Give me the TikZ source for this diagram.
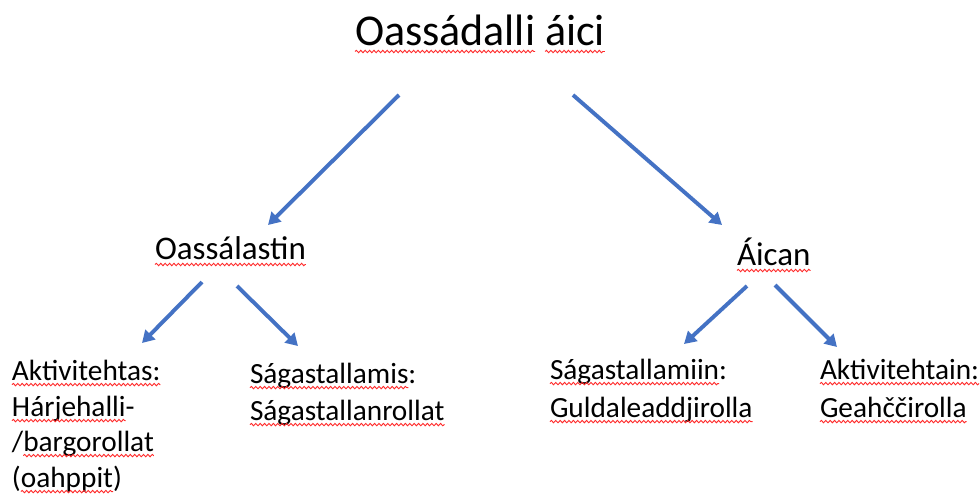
\documentclass[tikz,border=0pt]{standalone}
\usepackage{fontspec}
\setmainfont{Carlito}
\usetikzlibrary{arrows.meta,decorations.pathmorphing}
\definecolor{arrowblue}{HTML}{4472C4}
\definecolor{spellred}{HTML}{FF2A2A}
\tikzset{
  lbl/.style={inner sep=0pt, outer sep=0pt, anchor=base west},
  big/.style={font=\fontsize{44}{50}\selectfont},
  mid/.style={font=\fontsize{33}{38}\selectfont},
  small/.style={font=\fontsize{29.3}{35}\selectfont},
  conn/.style={arrowblue, line width=3.9pt, -{Triangle[length=12pt,width=13.5pt]}},
  wave/.style={draw=spellred, line width=0.9pt, decorate,
    decoration={snake, amplitude=1.2pt, segment length=4.4pt}}
}
\newcommand\wv[2][4.6pt]{\draw[wave] ([yshift=-#1]#2.base west) -- ([yshift=-#1]#2.base east);}
\begin{document}
\begin{tikzpicture}[x=1pt,y=-1pt]
\clip (0,0) rectangle (980,493);
\fill[white] (0,0) rectangle (980,493);
% texts
\node[lbl,big] (title) at (355,45) {Oassádalli};
\node[lbl,big] (title2) at ([xshift=9.9pt]title.base east) {áici};
\node[lbl,mid] (oass) at (155,259) {Oassálastin};
\node[lbl,mid] (aican) at (737,265) {Áican};
\node[lbl,small] (akt1) at (12,380) {Aktivitehtas:};
\node[lbl,small] (akt2) at (12,416) {Hárjehalli};
\node[lbl,small] (akt2d) at (akt2.base east) {-};
\node[lbl,small] (akt3s) at (12,451) {/};
\node[lbl,small] (akt3) at (akt3s.base east) {bargorollat};
\node[lbl,small] (akt4p) at (12,487) {(};
\node[lbl,small] (akt4) at (akt4p.base east) {oahppit};
\node[lbl,small] (akt4q) at (akt4.base east) {)};
\node[lbl,small] (sag1) at (250,383) {Ságastallamis};
\node[lbl,small] (sag1c) at (sag1.base east) {:};
\node[lbl,small] (sag2) at (250,420) {Ságastallanrollat};
\node[lbl,small] (sagr1) at (550,379) {Ságastallamiin};
\node[lbl,small] (sagr1c) at (sagr1.base east) {:};
\node[lbl,small] (sagr2) at (550,417) {Guldaleaddjirolla};
\node[lbl,small] (aktr1) at (820,379) {Aktivitehtain:};
\node[lbl,small] (aktr2) at (820,417) {Geahččirolla};
% spelling underlines
\wv[6.5pt]{title}\wv[6.5pt]{title2}\wv[5.5pt]{oass}\wv[5.5pt]{aican}
\wv{akt1}\wv{akt2}\wv{akt3}\wv{akt4}
\wv{sag1}\wv{sag2}\wv{sagr1}\wv{sagr2}\wv{aktr1}\wv{aktr2}
% connector ends
\coordinate (t-l) at (399,95);
\coordinate (t-r) at (573,95);
\coordinate (oass-in) at (268,225);
\coordinate (aican-in) at (722,225);
\coordinate (oass-l) at (202,282);
\coordinate (akt-in) at (142,343);
\coordinate (oass-r) at (237,286);
\coordinate (sag-in) at (298,346);
\coordinate (aican-l) at (747,286);
\coordinate (sagr-in) at (684,344);
\coordinate (aican-r) at (775,285);
\coordinate (aktr-in) at (837,347);
% connectors
\draw[conn] (t-l) -- (oass-in);
\draw[conn] (t-r) -- (aican-in);
\draw[conn] (oass-l) -- (akt-in);
\draw[conn] (oass-r) -- (sag-in);
\draw[conn] (aican-l) -- (sagr-in);
\draw[conn] (aican-r) -- (aktr-in);
\end{tikzpicture}
\end{document}
